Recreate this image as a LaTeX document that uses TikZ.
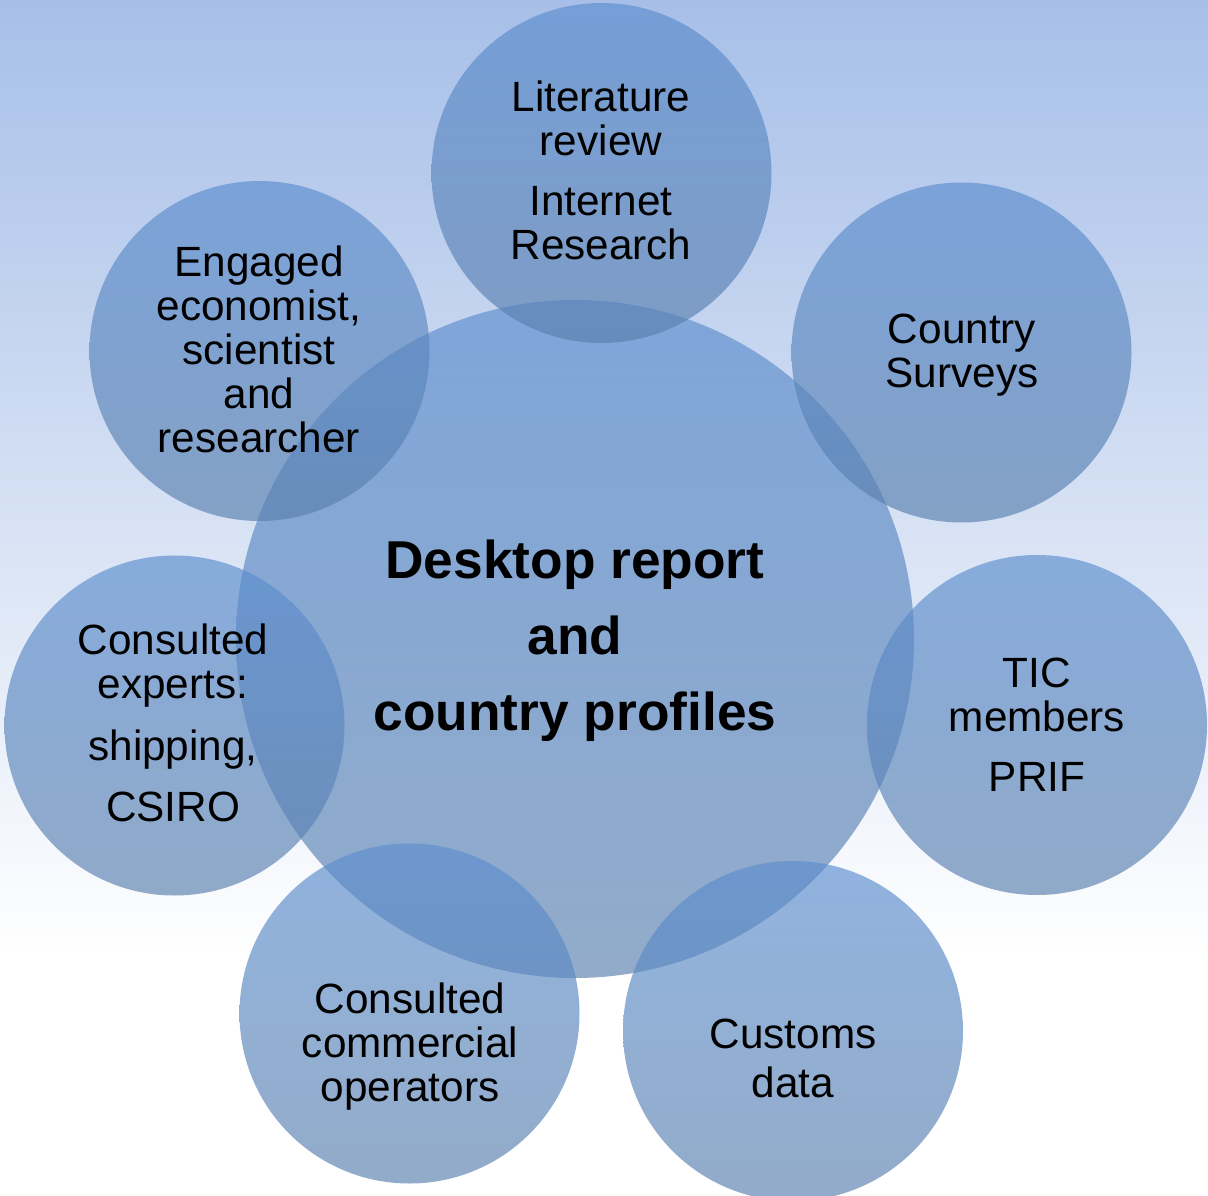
\documentclass[tikz,border=0pt]{standalone}
\usepackage{fontspec}
\setmainfont{Liberation Sans}
\definecolor{bgtop}{RGB}{167,191,232}
\definecolor{bubtop}{RGB}{92,142,207}
\definecolor{bubbot}{RGB}{90,128,174}
\begin{document}
\begin{tikzpicture}[x=1pt,y=-1pt,
  bubble/.style={circle, inner sep=0pt, minimum size=340pt, draw=none,
    top color=bubtop, bottom color=bubbot, fill opacity=0.66},
  bigbubble/.style={bubble, minimum size=678pt},
  lbl/.style={anchor=base, align=center, text=black,
    font=\fontsize{42.3}{44}\selectfont},
  biglbl/.style={anchor=base, align=center, text=black,
    font=\fontsize{53.3}{76}\selectfont\bfseries},
]
\useasboundingbox (0,0) rectangle (1208,1196);
% background
\shade[top color=bgtop, bottom color=white] (0,0) rectangle (1208,960);
\fill[white] (0,960) rectangle (1208,1196);

% circles
\node[bigbubble] (center) at (575,639) {};
\node[bubble] (lit)   at (601.5,173) {};
\node[bubble] (surv)  at (961.5,352.5) {};
\node[bubble] (tic)   at (1037,725) {};
\node[bubble] (cust)  at (793,1031) {};
\node[bubble] (comm)  at (409.5,1013.5) {};
\node[bubble] (expt)  at (174.5,725.5) {};
\node[bubble] (econ)  at (259.5,351) {};

% labels (anchor = baseline of the last line)
\node[biglbl] (centertxt) at (575,730) {Desktop report\\and\\country profiles};
\node[lbl] (littxt) at (601,259) {Literature\\review\\[16pt]Internet\\Research};
\node[lbl] (survtxt) at (962,387) {Country\\Surveys};
\node[lbl] (tictxt) at (1037,791) {TIC\\members\\[16pt]PRIF};
\node[lbl] (custtxt) at (793,1097) {Customs\\[5pt]data};
\node[lbl] (commtxt) at (410,1101) {Consulted\\commercial\\operators};
\node[lbl] (expttxt) at (173,821) {Consulted\\experts:\\[18pt]shipping,\\[17pt]CSIRO};
\node[lbl] (econtxt) at (259,452) {Engaged\\economist,\\scientist\\and\\researcher};
\end{tikzpicture}
\end{document}
